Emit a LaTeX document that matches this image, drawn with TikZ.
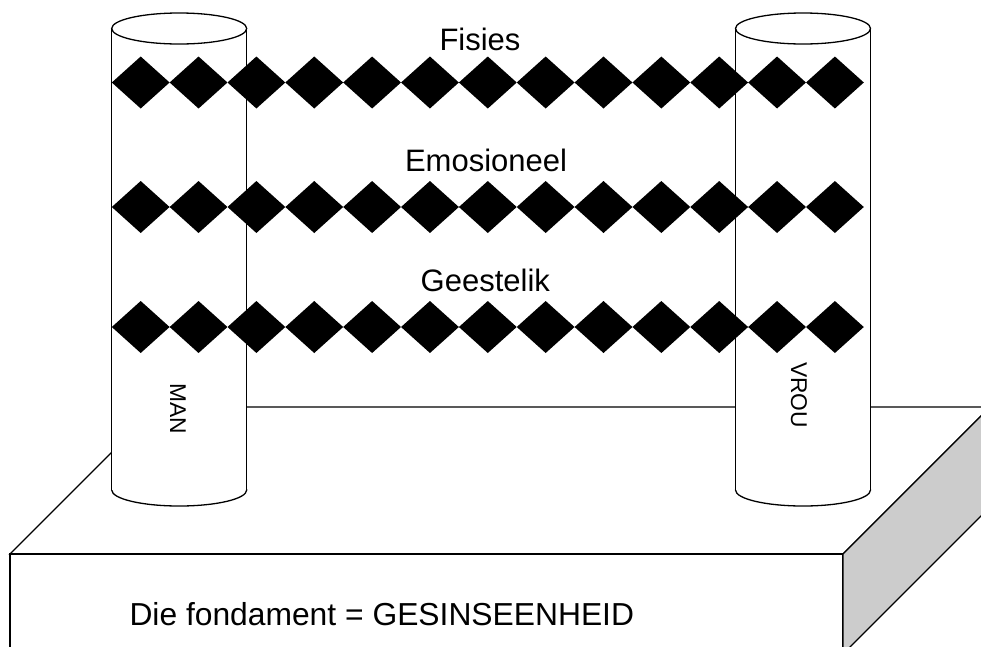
\documentclass[tikz,border=0pt]{standalone}
\usepackage{fontspec}
\setmainfont{Liberation Sans}
\tikzset{
  edge/.style={draw=black, line width=1.3pt, line join=miter},
  lbl/.style={font=\fontsize{31}{37}\selectfont, inner sep=0pt},
  baselbl/.style={font=\fontsize{31.8}{38}\selectfont, inner sep=0pt},
  sidelbl/.style={font=\fontsize{22.8}{27}\selectfont, inner sep=0pt, rotate=-90},
  bond/.style={fill=black},
  pillar/.style={fill=white}
}
\begin{document}
\begin{tikzpicture}[x=1pt,y=-1pt]
\useasboundingbox (0,0) rectangle (981,646);
\clip (0,0) rectangle (981,646);
% base slab
\draw[edge, fill=white] (10,554) -- (157,407) -- (990,407) -- (843,554) -- cycle;
\draw[edge, fill=white] (10,554) rectangle (843,660);
\draw[edge, fill=gray!40] (843,554) -- (990,407) -- (990,507) -- (843,654) -- cycle;
% pillars
\foreach \cx in {179.2,803} {
  \draw[edge, pillar] (\cx,490) ellipse [x radius=67.5, y radius=16];
  \fill[pillar] ({\cx-67.5},28.5) rectangle ({\cx+67.5},490);
  \draw[edge] ({\cx-67.5},28.5) -- ({\cx-67.5},490);
  \draw[edge] ({\cx+67.5},28.5) -- ({\cx+67.5},490);
  \draw[edge, pillar] (\cx,28.5) ellipse [x radius=67.5, y radius=15.5];
}
% diamond bands
\foreach \yy in {82.5,207,327} {
  \foreach \i in {0,...,12} {
    \fill[bond] ({140.7+57.85*\i},\yy) +(-28.9,0) -- +(0,-26) -- +(28.9,0) -- +(0,26) -- cycle;
  }
}
% labels
\node[lbl, anchor=base] (fisies) at (480,50.7) {Fisies};
\node[lbl, anchor=base] (emo) at (486,171.7) {Emosioneel};
\node[lbl, anchor=base] (gees) at (485.3,291.7) {Geestelik};
\node[baselbl, anchor=base west] (fond) at (129.3,625) {Die fondament = GESINSEENHEID};
\node[sidelbl] (man) at (178,409) {MAN};
\node[sidelbl] (vrou) at (799,395) {VROU};
\end{tikzpicture}
\end{document}
